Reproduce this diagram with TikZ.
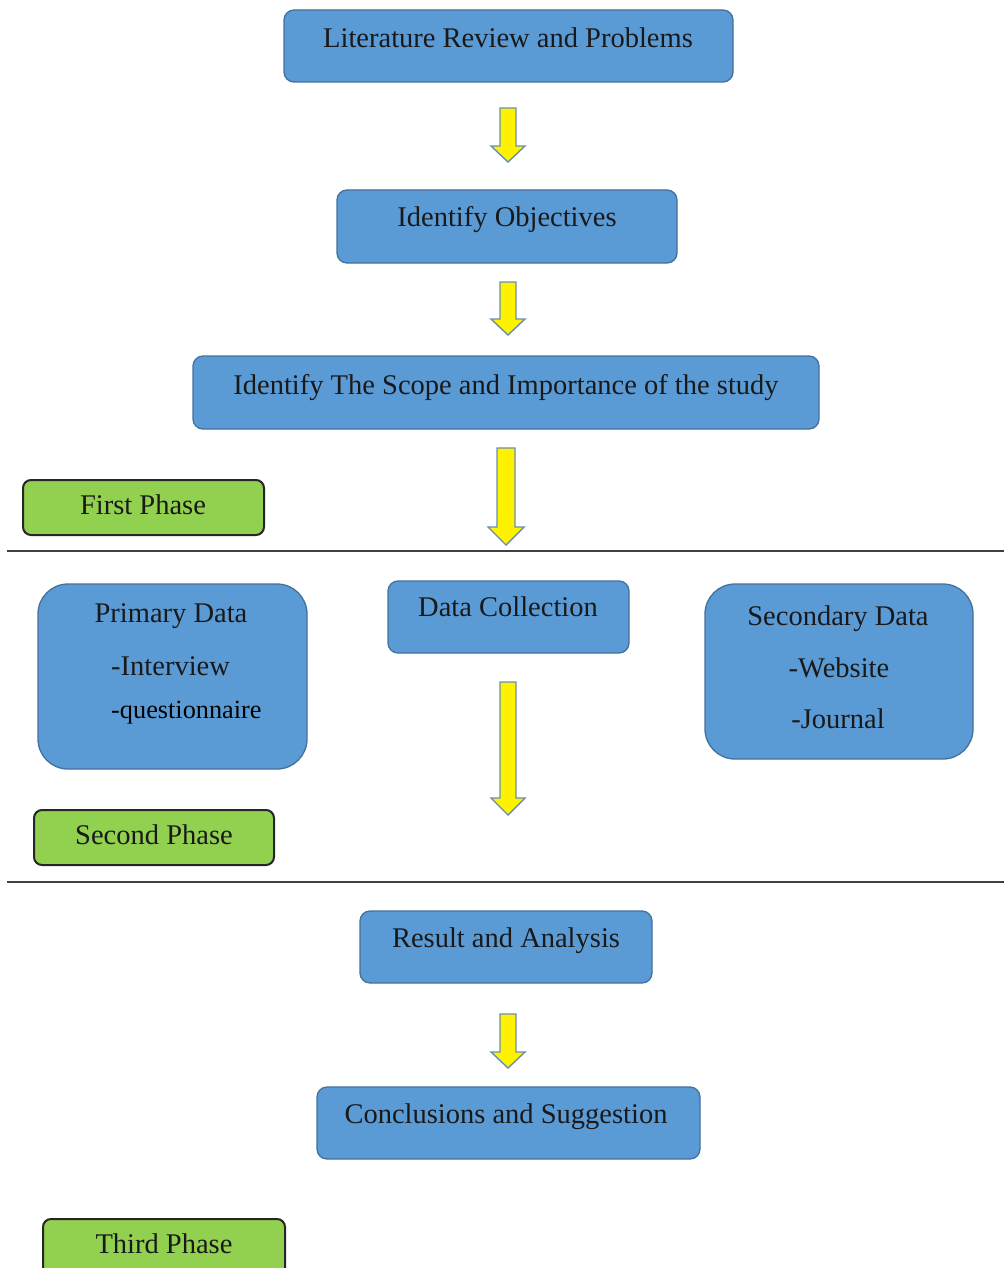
\documentclass[tikz,border=0pt]{standalone}
\usepackage{fontspec}
\setmainfont{Liberation Serif}
\definecolor{boxblue}{HTML}{5B9BD5}
\definecolor{boxedge}{HTML}{41719C}
\definecolor{phasegreen}{HTML}{92D050}
\definecolor{arrowedge}{HTML}{6A8DB0}
\definecolor{rulegrey}{HTML}{404040}
\tikzset{
  bluebox/.style={draw=boxedge, line width=1.3pt, fill=boxblue, rounded corners=10pt},
  bigbox/.style={draw=boxedge, line width=1.3pt, fill=boxblue, rounded corners=30pt},
  phasebox/.style={draw=black!85, line width=2pt, fill=phasegreen, rounded corners=8pt},
  lbl/.style={anchor=base, inner sep=0pt, font=\fontsize{28.5}{34}\selectfont, text=black!90},
  lblq/.style={anchor=base west, inner sep=0pt, font=\fontsize{26.3}{30}\selectfont, text=black},
  flowarrow/.style={draw=arrowedge, line width=1.4pt, fill=yellow, line join=miter},
  divider/.style={draw=rulegrey, line width=1.8pt}
}
% #1 x centre, #2 top y, #3 tip y, #4 shaft half width, #5 head half width, #6 head length
\newcommand\blockarrow[6]{%
  \path[flowarrow] (#1-#4,#2) -- (#1+#4,#2) -- (#1+#4,#3-#6) -- (#1+#5,#3-#6)
    -- (#1,#3) -- (#1-#5,#3-#6) -- (#1-#4,#3-#6) -- cycle;}
\begin{document}
\begin{tikzpicture}[x=1pt,y=-1pt]
\useasboundingbox (0,0) rectangle (1004,1268);

% ---- first phase ----
\path[bluebox] (284,10) rectangle (733,82);
\node[lbl] (t1) at (508,48) {Literature Review and Problems};
\blockarrow{508}{108}{162}{8}{17}{16}

\path[bluebox] (337,190) rectangle (677,263);
\node[lbl] (t2) at (507,226) {Identify Objectives};
\blockarrow{508}{282}{335}{8}{17}{16}

\path[bluebox] (193,356) rectangle (819,429);
\node[lbl] (t3) at (506,394) {Identify The Scope and Importance of the study};
\blockarrow{506}{448}{545}{9}{18}{18}

\path[phasebox] (23,480) rectangle (264,535);
\node[lbl] (p1) at (143,514) {First Phase};

\draw[divider] (7,551) -- (1004,551);

% ---- second phase ----
\path[bigbox] (38,584) rectangle (307,769);
\node[lbl] (pd) at (171,622) {Primary Data};
\node[lbl, anchor=base west] (pd1) at (111,675) {-Interview};
\node[lblq] (pd2) at (111,718) {-questionnaire};

\path[bluebox] (388,581) rectangle (629,653);
\node[lbl] (dc) at (508,616) {Data Collection};
\blockarrow{508}{682}{815}{8}{17}{17}

\path[bigbox] (705,584) rectangle (973,759);
\node[lbl] (sd) at (838,625) {Secondary Data};
\node[lbl] (sd1) at (839,677) {-Website};
\node[lbl] (sd2) at (838,728) {-Journal};

\path[phasebox] (34,810) rectangle (274,865);
\node[lbl] (p2) at (154,844) {Second Phase};

\draw[divider] (7,882) -- (1004,882);

% ---- third phase ----
\path[bluebox] (360,911) rectangle (652,983);
\node[lbl] (ra) at (506,947) {Result and Analysis};
\blockarrow{508}{1014}{1068}{8}{17}{16}

\path[bluebox] (317,1087) rectangle (700,1159);
\node[lbl] (cs) at (506,1123) {Conclusions and Suggestion};

\path[phasebox] (43,1219) rectangle (285,1290);
\node[lbl] (p3) at (164,1253) {Third Phase};
\end{tikzpicture}
\end{document}
